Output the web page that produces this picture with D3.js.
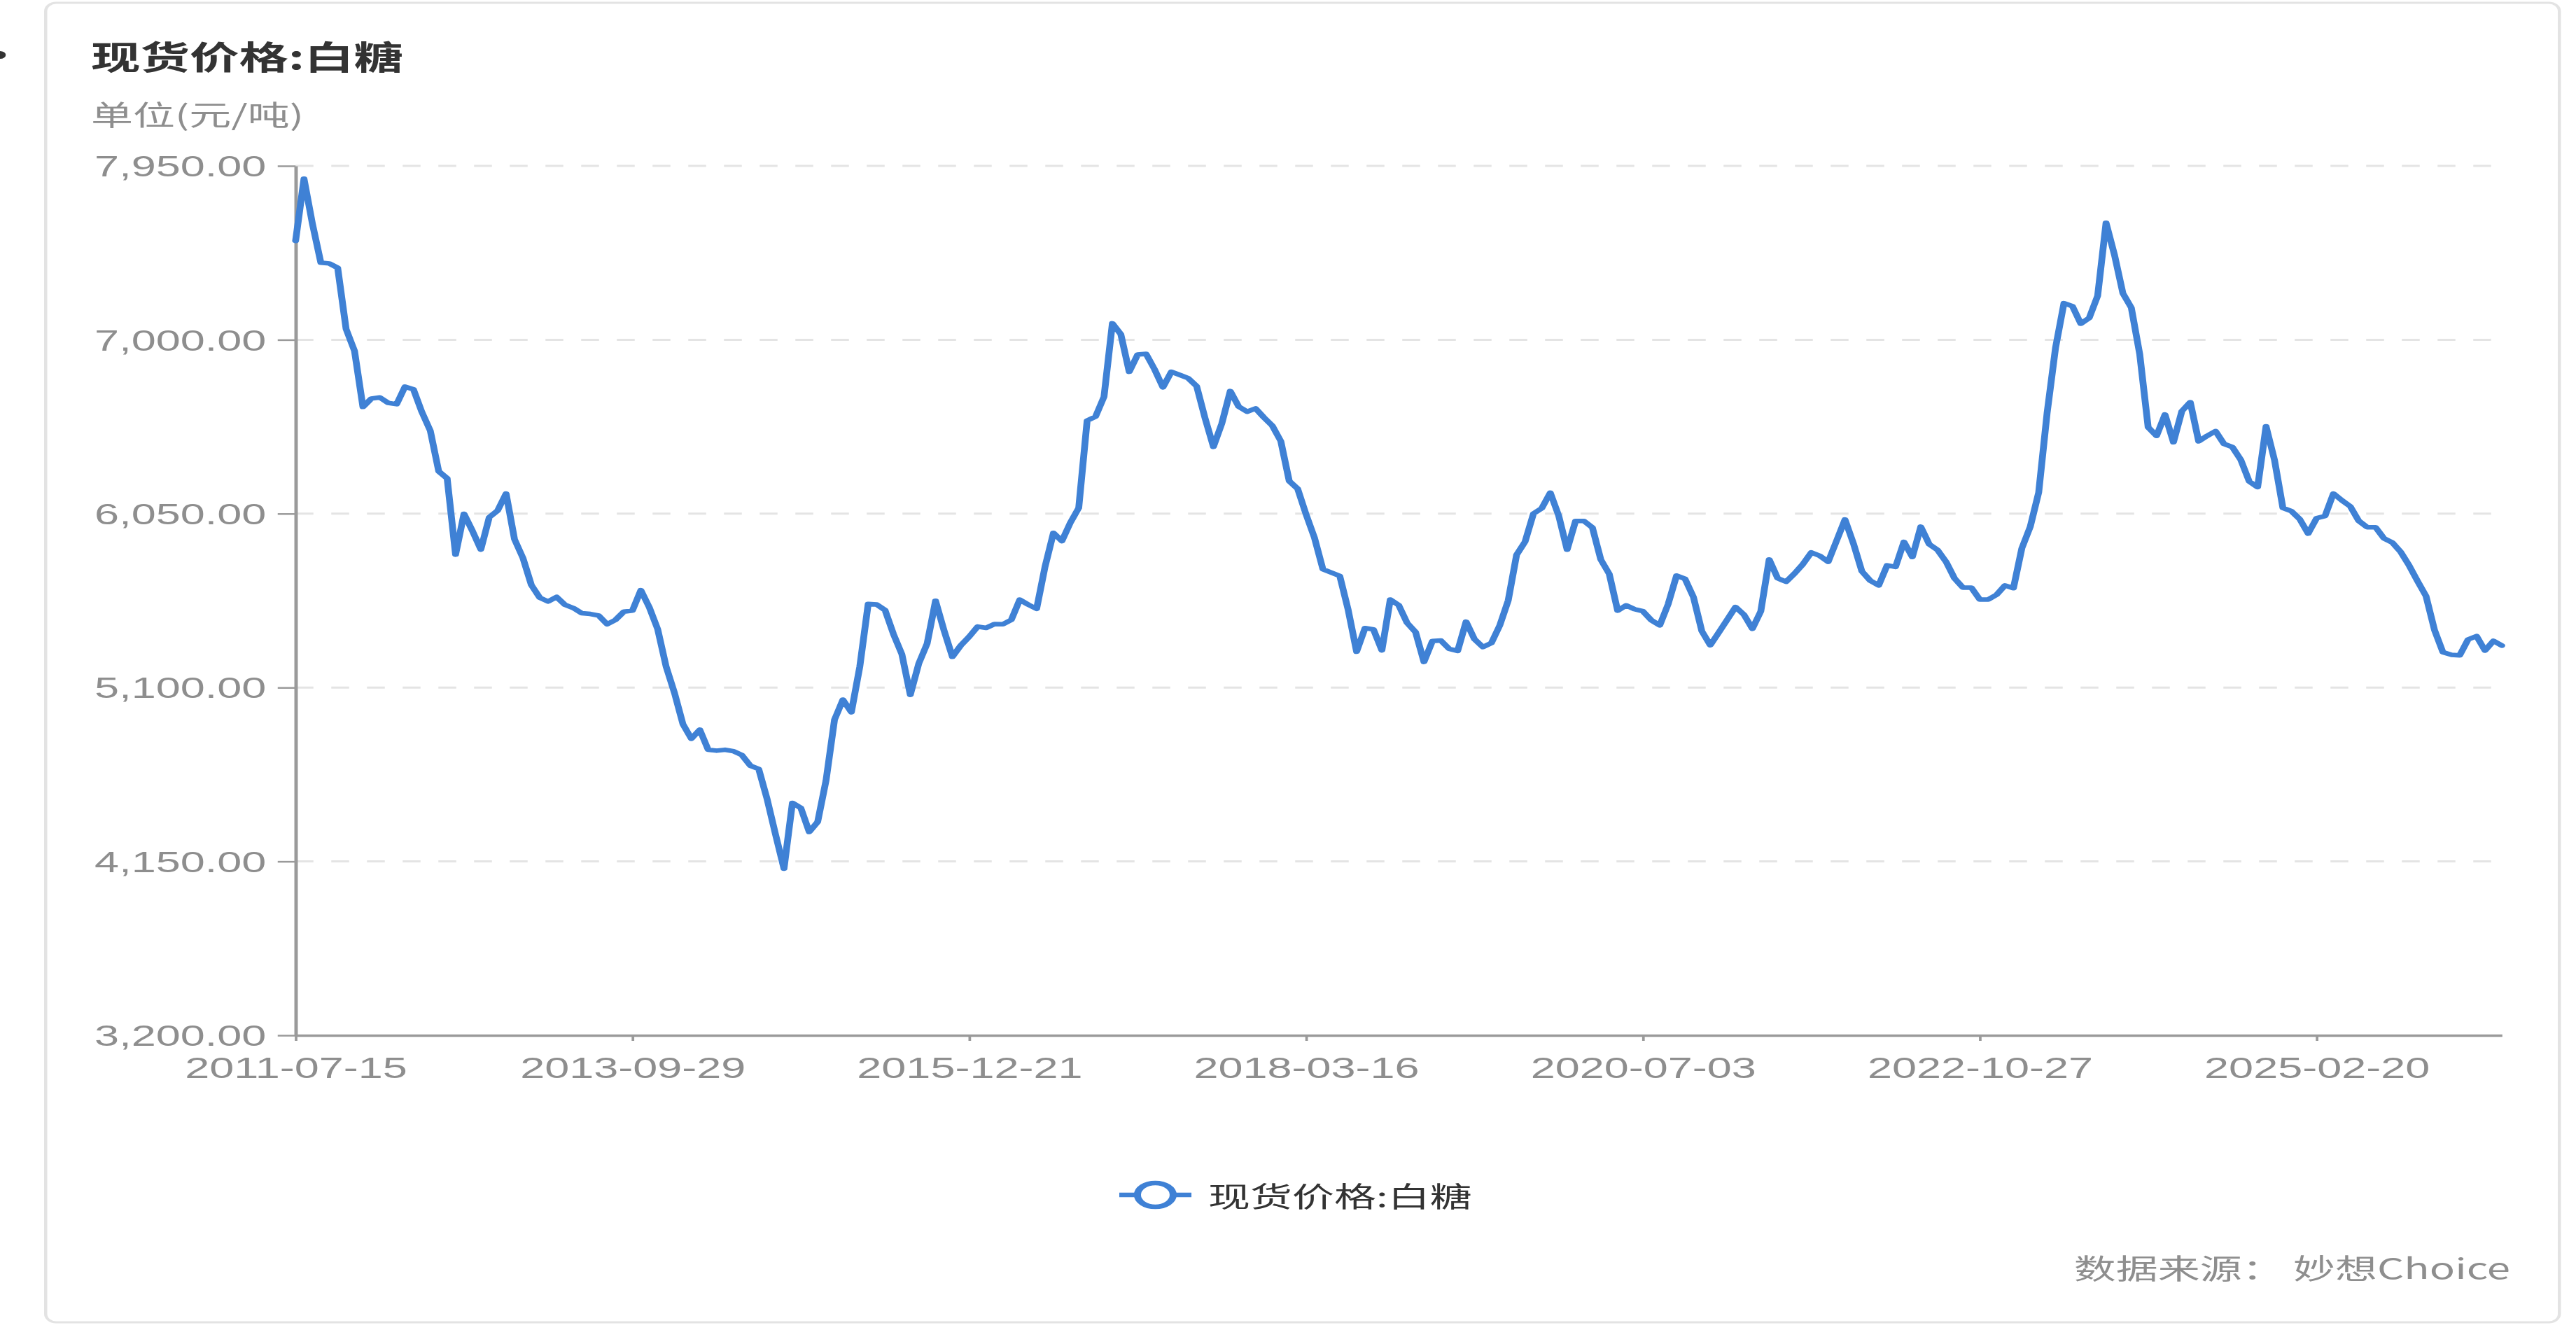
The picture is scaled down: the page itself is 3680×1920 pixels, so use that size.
<!DOCTYPE html>
<html><head><meta charset="utf-8">
<script src="https://cdn.jsdelivr.net/npm/d3@7"></script>
<style>html,body{margin:0;padding:0;background:#fff;}svg{display:block;}</style>
</head><body>
<svg id="chart" width="3680" height="1920"></svg>
<script>
// ---- data ----
const titleText = "现货价格:白糖";
const unitText = "单位(元/吨)";
const seriesName = "现货价格:白糖";
const sourceText = "数据来源：  妙想Choice";
const xTickLabels = ["2011-07-15","2013-09-29","2015-12-21","2018-03-16","2020-07-03","2022-10-27","2025-02-20"];
const labelEvery = 40; // samples between labelled categories
const yTicks = [3200, 4150, 5100, 6050, 7000, 7950];
const values = [
7540,7880,7634,7421,7417,7393,7059,6939,6633,6679,
6685,6655,6648,6744,6729,6605,6503,6281,6243,5826,
6049,5956,5854,6030,6067,6160,5910,5808,5660,5591,
5570,5595,5552,5534,5506,5502,5493,5446,5470,5515,
5520,5632,5539,5419,5215,5070,4900,4820,4870,4760,
4755,4760,4752,4731,4673,4655,4490,4297,4110,4470,
4442,4311,4366,4594,4924,5034,4965,5213,5557,5554,
5523,5392,5282,5060,5230,5340,5574,5413,5268,5330,
5378,5433,5426,5447,5446,5470,5580,5553,5530,5760,
5945,5900,6000,6081,6558,6580,6688,7090,7030,6825,
6919,6923,6839,6740,6825,6808,6790,6747,6572,6415,
6544,6720,6635,6607,6625,6575,6530,6446,6228,6186,
6046,5918,5746,5728,5710,5524,5296,5425,5418,5303,
5581,5550,5453,5403,5240,5354,5357,5311,5300,5460,
5364,5321,5343,5439,5575,5825,5896,6050,6080,6165,
6039,5853,6010,6010,5974,5799,5721,5520,5549,5528,
5517,5468,5440,5556,5712,5694,5594,5408,5331,5400,
5470,5540,5498,5421,5517,5800,5697,5678,5723,5774,
5838,5820,5787,5902,6018,5887,5735,5684,5658,5768,
5759,5896,5813,5979,5883,5851,5787,5697,5646,5646,
5581,5581,5607,5658,5643,5861,5979,6166,6600,6956,
7200,7184,7088,7119,7240,7639,7464,7254,7175,6921,
6522,6475,6592,6440,6610,6659,6445,6475,6501,6431,
6414,6344,6226,6195,6527,6344,6081,6064,6020,5941,
6025,6037,6160,6123,6090,6011,5976,5976,5915,5892,
5840,5766,5681,5599,5415,5293,5279,5276,5363,5381,
5302,5355,5329
];

// ---- layout (drawn in an unstretched space, then stretched 1.5x horizontally like the reference) ----
const SX = 1.5;
const svg = d3.select("#chart");
const root = svg.append("g").attr("transform", `scale(${SX},1)`);
const lineColor = "#3f81d5";
const axisColor = "#9a9a9a";
const labelColor = "#8e8e8e";
const fontLatin = "'Liberation Sans', Arial, 'Noto Sans CJK SC', sans-serif";
const fontCJK = "'Noto Sans CJK SC', 'Liberation Sans', sans-serif";

const plot = {left: 281.5, right: 2382.7, top: 237, bottom: 1479};

// card
root.append("rect")
  .attr("x", 43.5).attr("y", 4).attr("width", 2394).attr("height", 1885)
  .attr("rx", 10).attr("ry", 12)
  .attr("fill", "#fff").attr("stroke", "#e3e3e3").attr("stroke-width", 3);

// little bullet at the left edge
root.append("circle").attr("cx", 0).attr("cy", 78.5).attr("r", 5.5).attr("fill", "#333");

// title + unit
root.append("text").attr("x", 86.7).attr("y", 78.5).attr("dominant-baseline", "central")
  .attr("font-family", fontCJK).attr("font-weight", "bold").attr("font-size", 47)
  .attr("fill", "#333").text(titleText);
root.append("text").attr("x", 86.7).attr("y", 161.5).attr("dominant-baseline", "central")
  .attr("font-family", fontCJK).attr("font-size", 40)
  .attr("fill", labelColor).text(unitText);

// scales
const x = d3.scaleLinear().domain([0, values.length - 1]).range([plot.left, plot.right]);
const y = d3.scaleLinear().domain([yTicks[0], yTicks[yTicks.length - 1]]).range([plot.bottom, plot.top]);

// grid
root.append("g").selectAll("line").data(yTicks.slice(1)).join("line")
  .attr("x1", plot.left).attr("x2", plot.right)
  .attr("y1", d => y(d)).attr("y2", d => y(d))
  .attr("stroke", "#e4e4e4").attr("stroke-width", 3).attr("stroke-dasharray", "17 17");

// y axis
const yAxis = d3.axisLeft(y).tickValues(yTicks).tickSize(17).tickSizeOuter(0).tickPadding(11)
  .tickFormat(d3.format(",.2f"));
const gy = root.append("g").attr("transform", `translate(${plot.left},0)`).call(yAxis);
gy.select(".domain").attr("stroke", axisColor).attr("stroke-width", 3.3);
gy.selectAll(".tick line").attr("stroke", axisColor).attr("stroke-width", 2.5);
gy.selectAll(".tick text").attr("font-family", fontLatin).attr("font-size", 42)
  .attr("fill", labelColor).attr("dy", "0.35em");

// x axis
const tickIdx = xTickLabels.map((d, i) => i * labelEvery);
const xAxis = d3.axisBottom(x).tickValues(tickIdx).tickSize(8).tickSizeOuter(0).tickPadding(23)
  .tickFormat((d, i) => xTickLabels[i]);
const gx = root.append("g").attr("transform", `translate(0,${plot.bottom})`).call(xAxis);
gx.select(".domain").attr("stroke", axisColor).attr("stroke-width", 3.3);
gx.selectAll(".tick line").attr("stroke", axisColor).attr("stroke-width", 2.5);
gx.selectAll(".tick text").attr("font-family", fontLatin).attr("font-size", 42)
  .attr("fill", labelColor).attr("dy", "0.71em");

// series line
const line = d3.line().x((d, i) => x(i)).y(d => y(d)).curve(d3.curveLinear);
root.append("path").datum(values).attr("d", line)
  .attr("fill", "none").attr("stroke", lineColor).attr("stroke-width", 6.5)
  .attr("stroke-linejoin", "round").attr("stroke-linecap", "round");

// legend
const lg = root.append("g");
lg.append("line").attr("x1", 1066).attr("x2", 1134.7).attr("y1", 1707).attr("y2", 1707)
  .attr("stroke", lineColor).attr("stroke-width", 6.7);
lg.append("circle").attr("cx", 1100.3).attr("cy", 1707).attr("r", 17)
  .attr("fill", "#fff").attr("stroke", lineColor).attr("stroke-width", 6.7);
lg.append("text").attr("x", 1150.7).attr("y", 1707).attr("dominant-baseline", "central")
  .attr("font-family", fontCJK).attr("font-size", 40).attr("fill", "#333").text(seriesName);

// source
root.append("text").attr("x", 2390.7).attr("y", 1810).attr("dominant-baseline", "central")
  .attr("text-anchor", "end").attr("font-family", fontCJK).attr("font-size", 40)
  .attr("fill", labelColor).text(sourceText);
</script>
</body></html>
